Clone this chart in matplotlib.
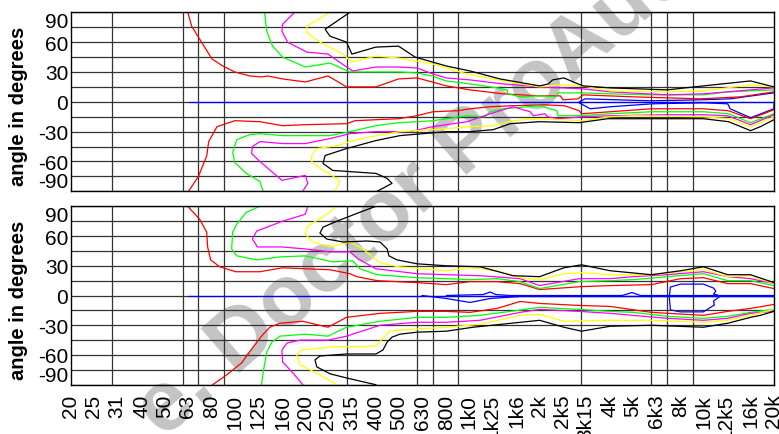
import matplotlib
matplotlib.use('Agg')
import matplotlib.pyplot as plt
import numpy as np
from matplotlib.ticker import NullFormatter

plt.rcParams['font.family'] = ['Liberation Sans', 'DejaVu Sans']

# 1/3 octave labels on the frequency axis
label_freqs = [20, 25, 31.5, 40, 50, 63, 80, 100, 125, 160, 200, 250, 315, 400, 500,
               630, 800, 1000, 1250, 1600, 2000, 2500, 3150, 4000, 5000, 6300, 8000,
               10000, 12500, 16000, 20000]
label_names = ['20', '25', '31', '40', '50', '63', '80', '100', '125', '160', '200', '250',
               '315', '400', '500', '630', '800', '1k0', '1k25', '1k6', '2k', '2k5', '3k15',
               '4k', '5k', '6k3', '8k', '10k', '12k5', '16k', '20k']
grid_freqs = [30, 40, 50, 60, 70, 80, 90, 100, 200, 300, 400, 500, 600, 700, 800, 900,
              1000, 2000, 3000, 4000, 5000, 6000, 7000, 8000, 9000, 10000]
angle_ticks = [90, 60, 30, 0, -30, -60, -90]

# isobars, (frequency Hz, angle deg) -- upper panel
top_red_hi = [(63, 90), (65.5, 76), (70, 65), (80, 43), (89, 36), (100, 30), (116, 26), (130, 25),
              (138, 26), (160, 23), (200, 20), (250, 26), (300, 15), (400, 15), (500, 23), (600, 24),
              (695, 20), (800, 16), (1010, 12), (1400, 8), (2000, 6), (2450, 6), (2520, 2), (2920, 3),
              (3070, 7), (5000, 5), (9700, 3), (14400, 5), (20000, 10)]
top_red_lo = [(63.5, -90), (70, -75), (76, -54), (77.4, -40), (84, -25), (100, -19), (128, -20),
              (160, -24), (200, -23), (300, -22), (326, -19), (400, -18), (500, -17), (600, -14),
              (700, -10), (890, -9), (1010, -7), (1230, -5), (1500, -4), (2090, -3), (2560, -4),
              (2950, -9), (3020, -12), (4000, -10), (6000, -7), (10000, -7), (12800, -9),
              (15900, -17), (20000, -8)]
top_grn_hi = [(134, 90), (137, 71), (145, 56), (160, 45), (200, 35), (255, 39), (310, 30), (400, 30),
              (507, 30), (600, 29), (695, 26), (800, 21), (1010, 18), (1318, 14), (1452, 12),
              (1466, 8), (1652, 5), (2000, 6), (2334, 5), (2400, 9), (3070, 9), (4000, 8), (6000, 7),
              (10000, 7), (12800, 10), (20000, 12)]
top_grn_lo = [(132, -90), (128, -80), (112, -72), (100, -61), (98, -51), (102, -38), (116, -33),
              (128, -32), (160, -34), (200, -34), (255, -34), (310, -30), (400, -24), (500, -21),
              (600, -20), (700, -19), (800, -17), (980, -14), (1170, -15), (1230, -10), (1400, -7),
              (2000, -4), (2370, -9), (2400, -14), (2950, -14), (4000, -12), (6000, -10),
              (10000, -10), (12800, -12), (15900, -21), (20000, -12)]
top_mag_hi = [(180, 90), (160, 78), (159, 71), (168, 60), (203, 50), (250, 48), (300, 35), (319, 31),
              (400, 35), (500, 35), (600, 34), (700, 28), (800, 24), (1010, 22), (1400, 18),
              (2000, 15), (3070, 13), (4000, 10), (7000, 7), (10000, 8), (20000, 14)]
top_mag_lo = [(195, -90), (205, -82), (200, -74), (159, -79), (128, -60), (118, -52), (119, -45),
              (128, -40), (160, -42), (200, -42), (255, -37), (310, -32), (400, -30), (560, -30),
              (700, -25), (980, -20), (1230, -12), (1356, -9), (1540, -5), (1823, -10), (1880, -14),
              (2110, -12), (2160, -15), (2400, -17), (3070, -15), (4000, -14), (7000, -13),
              (10000, -13), (12700, -14), (15900, -23), (20000, -13)]
top_yel_hi = [(255, 90), (203, 76), (203, 70), (231, 60), (290, 48), (316, 40), (400, 46), (500, 44),
              (700, 38), (980, 28), (1400, 21), (2000, 15), (2450, 17), (3070, 16), (4000, 11),
              (7000, 10), (10000, 11), (15900, 17), (20000, 15)]
top_yel_lo = [(267, -90), (281, -80), (260, -74), (231, -67), (213, -60), (213, -54), (224, -47),
              (275, -44), (319, -39), (405, -34), (507, -30), (800, -27), (1010, -25), (1268, -24),
              (1540, -19), (2000, -17), (3070, -19), (4000, -15), (5000, -14), (10000, -15),
              (12800, -17), (15900, -25), (20000, -15)]
top_blk_hi = [(310, 90), (243, 73), (255, 66), (300, 60), (316, 48), (400, 55), (500, 56), (588, 45),
              (800, 36), (1010, 31), (1356, 23), (2000, 16), (2180, 18), (2270, 22), (2540, 24),
              (2780, 20), (3070, 16), (4000, 14), (7000, 12), (10000, 16), (15900, 21), (20000, 15)]
top_blk_lo = [(405, -90), (469, -82), (447, -77), (400, -72), (262, -69), (238, -62), (243, -54),
              (300, -47), (400, -39), (507, -34), (800, -30), (1010, -30), (1268, -28), (1500, -22),
              (2000, -20), (2950, -21), (3900, -17), (5000, -17), (10000, -17), (12800, -20),
              (15900, -29), (17500, -25), (20000, -18)]
top_blu_0 = [(64, 0), (20000, 0)]
top_blu_hi = [(2950, 0), (3130, 3), (5930, 1), (9700, 2), (13000, 3), (20000, 9)]
top_blu_lo = [(2950, -1), (3290, -7), (4000, -5), (6050, -2), (10000, -1), (12700, -2),
              (13000, -7), (15900, -16), (20000, -7), (20000, -2)]

# lower panel
bot_red_hi = [(63, 90), (70.8, 77), (75.9, 64), (76.6, 49), (78.9, 36), (86.2, 29), (101, 24),
              (128, 24), (160, 28), (200, 27), (255, 26), (310, 22), (332, 19), (405, 15), (600, 13),
              (800, 11), (1010, 14), (1318, 14), (1652, 12), (2000, 6), (3020, 9), (4000, 10),
              (6000, 11), (8000, 17), (10000, 18), (12700, 12), (15900, 12), (20000, 7)]
bot_red_lo = [(80.5, -90), (92.5, -80), (107, -68), (119, -53), (130, -41), (141, -32), (156, -28),
              (195, -26), (250, -32), (300, -22), (417, -18), (600, -16), (800, -16), (1010, -17),
              (1318, -13), (1652, -6), (2000, -8), (2950, -10), (4000, -11), (6000, -17),
              (10000, -20), (12700, -16), (15900, -13), (20000, -9)]
bot_grn_hi = [(128, 90), (112, 84), (102, 72), (98, 64), (97, 47), (102, 40), (125, 36), (156, 39),
              (200, 40), (262, 34), (319, 35), (342, 27), (405, 21), (600, 18), (800, 17), (1010, 16),
              (1318, 17), (1652, 14), (2000, 7), (2950, 14), (4000, 15), (5000, 16), (7000, 19),
              (10000, 22), (12700, 15), (15900, 15), (20000, 10)]
bot_grn_lo = [(130, -90), (133, -74), (137, -57), (144, -47), (156, -41), (200, -39), (250, -41),
              (300, -32), (417, -26), (600, -22), (800, -22), (1114, -20), (1500, -16), (2000, -12),
              (2950, -14), (4000, -16), (5000, -17), (7000, -21), (10000, -23), (12700, -21),
              (15900, -17), (20000, -14)]
bot_mag_hi = [(205, 90), (200, 82), (160, 75), (124, 65), (119, 57), (125, 49), (159, 49), (200, 47),
              (255, 44), (310, 44), (336, 37), (400, 27), (600, 22), (800, 21), (1114, 20),
              (1652, 17), (2000, 10), (2950, 17), (4000, 17), (5000, 19), (7000, 21), (10000, 24),
              (12700, 19), (15900, 17), (20000, 12)]
bot_mag_lo = [(195, -90), (180, -80), (160, -67), (159, -55), (167, -48), (190, -45), (250, -45),
              (300, -41), (417, -30), (600, -27), (800, -27), (1114, -25), (1652, -17), (2000, -14),
              (2950, -16), (4000, -18), (5000, -20), (7000, -23), (10000, -25), (12700, -23),
              (15900, -18), (20000, -16)]
bot_yel_hi = [(273, 90), (247, 82), (205, 70), (200, 62), (215, 54), (255, 49), (310, 54), (352, 47),
              (417, 33), (500, 29), (800, 25), (1010, 28), (1318, 25), (1652, 18), (2000, 16),
              (2540, 22), (3020, 23), (4000, 21), (6000, 21), (8000, 24), (10000, 26), (12700, 19),
              (15900, 20), (20000, 12)]
bot_yel_lo = [(273, -90), (231, -80), (190, -70), (184, -60), (193, -55), (255, -52), (400, -51),
              (429, -43), (459, -36), (500, -35), (800, -32), (1114, -29), (1652, -20), (2000, -19),
              (2540, -26), (4000, -25), (6000, -25), (10000, -27), (12700, -25), (15900, -20),
              (20000, -14)]
bot_blk_hi = [(400, 90), (342, 84), (273, 75), (238, 69), (231, 63), (247, 57), (290, 54), (367, 55),
              (417, 54), (447, 47), (455, 40), (492, 36), (600, 32), (800, 30), (1114, 29),
              (1540, 20), (2000, 19), (2540, 28), (3020, 31), (4000, 25), (6000, 21), (8000, 25),
              (10000, 29), (12700, 21), (15900, 21), (20000, 13)]
bot_blk_lo = [(400, -90), (310, -84), (255, -79), (224, -72), (220, -65), (231, -61), (300, -59),
              (400, -59), (429, -55), (447, -47), (469, -42), (507, -39), (600, -37), (800, -36),
              (1040, -32), (2000, -25), (2540, -32), (3020, -36), (4000, -31), (6000, -30),
              (10000, -32), (12700, -28), (15900, -22), (17500, -20), (20000, -16)]
bot_blu_0 = [(63, 0), (20000, 0)]
bot_blu_hi = [(800, 0), (1150, 1), (1230, 3.5), (1300, 1), (1500, 0), (4500, 0), (4950, 3),
              (5400, 0), (20000, 0)]
bot_blu_lo = [(630, 0), (800, -3), (1010, -7), (1230, -3), (1650, -1), (20000, -1)]
bot_blu_loop = [(7160, -0.5), (7230, 8.5), (7980, 11.5), (10000, 11.5), (11050, 7.5), (11300, 4.5),
                (11050, 1.5), (11830, -0.5), (11050, -5.5), (11140, -9.5), (10000, -16.5),
                (7980, -16.5), (7230, -14.5), (7160, -3), (7160, -0.5)]

top_curves = [(top_blu_0, 'blue'), (top_blu_hi, 'blue'), (top_blu_lo, 'blue'),
              (top_red_hi, 'red'), (top_red_lo, 'red'),
              (top_grn_hi, '#00ff00'), (top_grn_lo, '#00ff00'),
              (top_mag_hi, '#ff00ff'), (top_mag_lo, '#ff00ff'),
              (top_yel_hi, '#ffff00'), (top_yel_lo, '#ffff00'),
              (top_blk_hi, 'black'), (top_blk_lo, 'black')]
bot_curves = [(bot_blu_0, 'blue'), (bot_blu_hi, 'blue'), (bot_blu_lo, 'blue'), (bot_blu_loop, 'blue'),
              (bot_red_hi, 'red'), (bot_red_lo, 'red'),
              (bot_grn_hi, '#00ff00'), (bot_grn_lo, '#00ff00'),
              (bot_mag_hi, '#ff00ff'), (bot_mag_lo, '#ff00ff'),
              (bot_yel_hi, '#ffff00'), (bot_yel_lo, '#ffff00'),
              (bot_blk_hi, 'black'), (bot_blk_lo, 'black')]

fig = plt.figure(figsize=(7.79, 4.35), dpi=100)
ax1 = fig.add_axes([0.0911, 0.5579, 0.9024, 0.4115])
ax2 = fig.add_axes([0.0911, 0.1133, 0.9024, 0.4101])

# watermark behind everything
fig.text(0.571, 0.621, 'e. Doctor ProAudio', rotation=41, rotation_mode='anchor',
         fontsize=62, fontweight='bold', color='#c4c4c4', ha='center', va='center', zorder=-1)

for ax, curves in ((ax1, top_curves), (ax2, bot_curves)):
    ax.set_facecolor('none')
    ax.set_xscale('log')
    ax.set_xlim(20, 20000)
    ax.set_ylim(-90, 90)
    ax.set_xticks(label_freqs)
    ax.set_xticks(grid_freqs, minor=True)
    ax.xaxis.set_minor_formatter(NullFormatter())
    ax.set_yticks(angle_ticks, labels=[str(t) for t in angle_ticks])
    ax.set_yticks(np.arange(-75, 90, 15), minor=True)
    ax.yaxis.set_minor_formatter(NullFormatter())
    ax.grid(axis='x', which='minor', color='#333333', lw=0.9)
    ax.grid(axis='y', which='both', color='#333333', lw=0.9)
    ax.tick_params(which='both', length=0)
    ax.tick_params(axis='y', labelsize=15, pad=2)
    for s in ax.spines.values():
        s.set_color('black')
        s.set_linewidth(1.0)
    for pts, col in curves:
        f, a = zip(*pts)
        ax.plot(f, a, color=col, lw=0.9)
    labs = ax.get_yticklabels()
    labs[0].set_va('top')
    labs[-1].set_va('bottom')
    ax.set_ylabel('angle in degrees', fontsize=14.5, fontweight='bold')
    ax.yaxis.set_label_coords(-0.061, 0.48)

ax1.tick_params(axis='x', labelbottom=False)
ax2.set_xticklabels(label_names, rotation=90, fontsize=15)
ax2.tick_params(axis='x', pad=6.5)

fig.savefig('out.png', dpi=100)
